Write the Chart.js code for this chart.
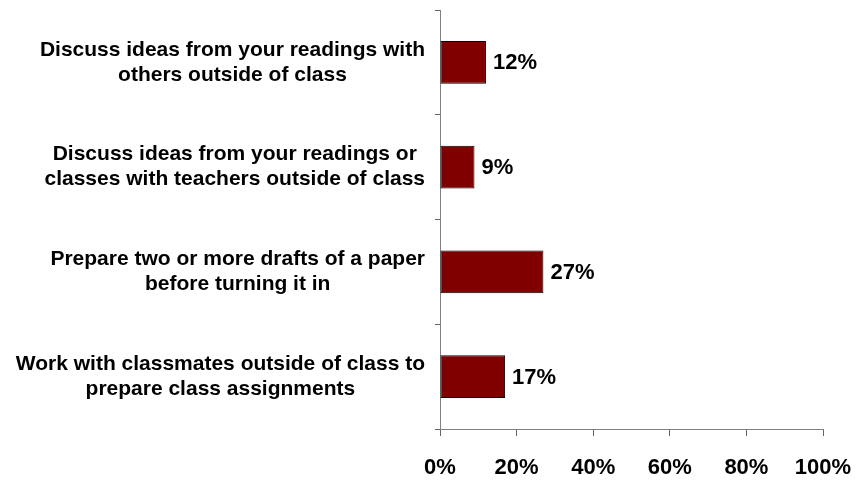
<!DOCTYPE html>
<html>
<head>
<meta charset="utf-8">
<script src="https://cdn.jsdelivr.net/npm/chart.js@4.4.1/dist/chart.umd.min.js"></script>
<style>
  html, body { margin: 0; padding: 0; background: #fff; }
</style>
</head>
<body>
<canvas id="chart" width="860" height="481"></canvas>
<script>
// categories, each one split in its two printed lines
const categories = [
  ['Discuss ideas from your readings with', 'others outside of class'],
  ['Discuss ideas from your readings or', 'classes with teachers outside of class'],
  ['Prepare two or more drafts of a paper', 'before turning it in'],
  ['Work with classmates outside of class to', 'prepare class assignments']
];
const values = [12, 9, 27, 17];
const xTicks = [0, 20, 40, 60, 80, 100];

const FONT = "'Liberation Sans', Arial, sans-serif";

// y labels: each label centred on its own widest line, right edge near the axis (Excel style)
const categoryLabels = {
  id: 'categoryLabels',
  afterDraw(chart) {
    const ctx = chart.ctx;
    const yScale = chart.scales.y;
    ctx.save();
    ctx.font = 'bold 21px ' + FONT;
    ctx.fillStyle = '#000';
    ctx.textAlign = 'center';
    ctx.textBaseline = 'middle';
    const lineH = 25;
    const right = yScale.right - 15;
    categories.forEach((lines, i) => {
      const widest = Math.max(...lines.map(l => ctx.measureText(l).width));
      const cx = right - widest / 2;
      const cy = yScale.getPixelForValue(i);
      lines.forEach((line, j) => {
        ctx.fillText(line, cx, cy + (j - (lines.length - 1) / 2) * lineH);
      });
    });
    ctx.restore();
  }
};

// percent labels at the end of each bar
const valueLabels = {
  id: 'valueLabels',
  afterDatasetsDraw(chart) {
    const ctx = chart.ctx;
    const meta = chart.getDatasetMeta(0);
    ctx.save();
    ctx.font = 'bold 22px ' + FONT;
    ctx.fillStyle = '#000';
    ctx.textAlign = 'left';
    ctx.textBaseline = 'middle';
    meta.data.forEach((bar, i) => {
      ctx.fillText(values[i] + '%', bar.x + 7, bar.y + 1);
    });
    ctx.restore();
  }
};

new Chart(document.getElementById('chart'), {
  type: 'bar',
  data: {
    labels: categories,
    datasets: [{
      data: values,
      backgroundColor: '#800000',
      borderColor: '#000',
      borderWidth: 1,
      borderSkipped: false,
      categoryPercentage: 1,
      barPercentage: 0.41
    }]
  },
  options: {
    indexAxis: 'y',
    responsive: false,
    animation: false,
    layout: { padding: { top: 10, right: 37, bottom: 0, left: 0 } },
    plugins: {
      legend: { display: false },
      tooltip: { enabled: false }
    },
    scales: {
      x: {
        type: 'linear',
        position: 'bottom',
        min: 0,
        max: 100,
        afterBuildTicks: (scale) => { scale.ticks = xTicks.map(v => ({ value: v })); },
        ticks: {
          callback: (v) => v + '%',
          color: '#000',
          font: { family: FONT, size: 22, weight: 'bold' },
          padding: 19,
          maxRotation: 0
        },
        grid: { drawOnChartArea: false, tickLength: 7, tickColor: '#666' },
        border: { color: '#808080' },
        afterFit: (scale) => {
          scale.height = 52;
          scale.paddingLeft = 0;
          scale.paddingRight = 0;
        }
      },
      y: {
        type: 'category',
        offset: true,
        ticks: { display: false },
        grid: { drawOnChartArea: false, tickLength: 5, tickColor: '#666', offset: true },
        border: { color: '#808080' },
        afterFit: (scale) => { scale.width = 440; }
      }
    }
  },
  plugins: [categoryLabels, valueLabels]
});
</script>
</body>
</html>
